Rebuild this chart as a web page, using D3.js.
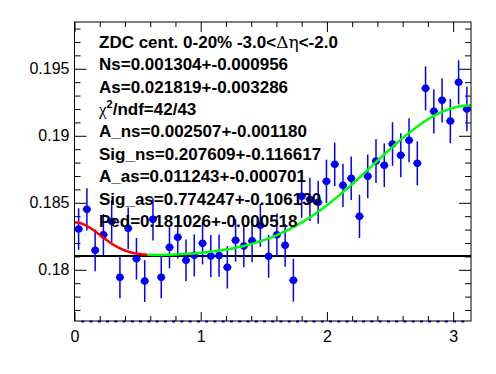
<!DOCTYPE html>
<html>
<head>
<meta charset="utf-8">
<script src="https://cdn.jsdelivr.net/npm/d3@7"></script>
<style>
  body { margin: 0; background: #fff; }
  svg { display: block; }
  text { font-family: "Liberation Sans", Arial, Helvetica, sans-serif; }
</style>
</head>
<body>
<script>
// dphi bins, 0..pi
const nBins = 48
const xRange = [0, Math.PI]

const values = [
  0.183041, 0.184511, 0.181451, 0.182616, 0.183616, 0.179436, 0.183093, 0.180824,
  0.179160, 0.183765, 0.179436, 0.181675, 0.182421, 0.180705, 0.181078, 0.181974,
  0.181026, 0.181063, 0.180183, 0.182198, 0.181772, 0.182160, 0.183325, 0.181004,
  0.182608, 0.181825, 0.179220, 0.185489, 0.185250, 0.185041, 0.186600, 0.187869,
  0.186302, 0.186825, 0.183989, 0.186974, 0.188116, 0.187802, 0.189384, 0.188541,
  0.189660, 0.187944, 0.193541, 0.191825, 0.192645, 0.191101, 0.193989, 0.191996
]

const errors = [
  0.00155, 0.00158, 0.00155, 0.00155, 0.00156, 0.00155, 0.00156, 0.00155,
  0.00156, 0.00157, 0.00156, 0.00156, 0.00157, 0.00156, 0.00157, 0.00157,
  0.00158, 0.00158, 0.00158, 0.00159, 0.00159, 0.00159, 0.0016, 0.0016,
  0.0016, 0.0016, 0.0016, 0.00161, 0.00161, 0.00161, 0.00162, 0.00162,
  0.00162, 0.00162, 0.00162, 0.00163, 0.00163, 0.00163, 0.00163, 0.00164,
  0.00164, 0.00164, 0.00164, 0.00165, 0.00165, 0.00165, 0.00165, 0.00166
]

// fit result: ped, A_ns, sig_ns, A_as, sig_as
const fitPars = [0.181026, 0.002507, 0.207609, 0.011243, 0.774247]
const redRange = [0, 0.578]
const greenRange = [0.578, Math.PI]

const yMajor = [0.18, 0.185, 0.19, 0.195]
const yLabels = ['0.18', '0.185', '0.19', '0.195']
const xMajor = [0, 1, 2, 3]
const xLabels = ['0', '1', '2', '3']

const infoLines = [
  'ZDC cent. 0-20% -3.0<Δη<-2.0',
  'Ns=0.001304+-0.000956',
  'As=0.021819+-0.003286',
  'χ2/ndf=42/43',
  'A_ns=0.002507+-0.001180',
  'Sig_ns=0.207609+-0.116617',
  'A_as=0.011243+-0.000701',
  'Sig_as=0.774247+-0.106130',
  'Ped=0.181026+-0.000518'
]

const width = 496
const height = 374
const frame = { left: 74.5, right: 471, top: 22, bottom: 321 }

const xScale = d3.scaleLinear()
  .domain(xRange)
  .range([frame.left, frame.right])

const yScale = d3.scaleLinear()
  .domain([0.17618, 0.19849])
  .range([frame.bottom, frame.top])

const binW = (xRange[1] - xRange[0]) / nBins
const points = values.map((v, i) => ({
  lo: xRange[0] + i * binW,
  hi: xRange[0] + (i + 1) * binW,
  x: xRange[0] + (i + 0.5) * binW,
  v: v,
  e: errors[i]
}))

function fitFunc(x) {
  const [ped, ans, sns, aas, sas] = fitPars
  return ped + ans * Math.exp(-x * x / (2 * sns * sns)) +
    aas * Math.exp(-(x - Math.PI) * (x - Math.PI) / (2 * sas * sas))
}

const svg = d3.select('body').append('svg')
  .attr('width', width)
  .attr('height', height)

svg.append('rect')
  .attr('width', width)
  .attr('height', height)
  .attr('fill', 'white')

// minor ticks, all four sides
const yMinor = d3.range(0.177, 0.1985, 0.001).filter(d => !yMajor.some(m => Math.abs(m - d) < 1e-6))
const xMinor = d3.range(0.2, 3.15, 0.2).filter(d => !xMajor.some(m => Math.abs(m - d) < 1e-6))

function tickGroup(axis, tx, ty) {
  const g = svg.append('g')
    .attr('transform', `translate(${tx}, ${ty})`)
    .call(axis)
  g.select('.domain').remove()
  g.selectAll('line').attr('stroke', 'black').attr('stroke-width', 1)
  return g
}

tickGroup(d3.axisLeft(yScale).tickValues(yMinor).tickSize(-6).tickFormat(''), frame.left, 0)
tickGroup(d3.axisRight(yScale).tickValues(yMinor).tickSize(-6).tickFormat(''), frame.right, 0)
tickGroup(d3.axisRight(yScale).tickValues(yMajor).tickSize(-12).tickFormat(''), frame.right, 0)
tickGroup(d3.axisBottom(xScale).tickValues(xMinor).tickSize(-5).tickFormat(''), 0, frame.bottom)
tickGroup(d3.axisTop(xScale).tickValues(xMinor).tickSize(-5).tickFormat(''), 0, frame.top)
tickGroup(d3.axisTop(xScale).tickValues(xMajor).tickSize(-10).tickFormat(''), 0, frame.top)

const yAxis = tickGroup(d3.axisLeft(yScale)
  .tickValues(yMajor)
  .tickSize(-12)
  .tickPadding(5)
  .tickFormat((d, i) => yLabels[i]), frame.left, 0)
yAxis.selectAll('text')
  .attr('font-size', 16)
  .attr('fill', 'black')
  .attr('font-family', '"Liberation Sans", Arial, sans-serif')

const xAxis = tickGroup(d3.axisBottom(xScale)
  .tickValues(xMajor)
  .tickSize(-9)
  .tickPadding(6)
  .tickFormat((d, i) => xLabels[i]), 0, frame.bottom)
xAxis.selectAll('text')
  .attr('font-size', 16)
  .attr('fill', 'black')
  .attr('font-family', '"Liberation Sans", Arial, sans-serif')
  .attr('dy', '0.95em')

// blue stubs along the bottom edge (bin edges)
svg.append('g').selectAll('line')
  .data(d3.range(1, nBins))
  .join('line')
  .attr('x1', d => xScale(d * binW) - 1.5)
  .attr('x2', d => xScale(d * binW) + 1.5)
  .attr('y1', frame.bottom + 0.5)
  .attr('y2', frame.bottom + 0.5)
  .attr('stroke', '#0000ff')
  .attr('stroke-width', 2)

// pedestal line
svg.append('line')
  .attr('x1', frame.left)
  .attr('x2', frame.right)
  .attr('y1', yScale(fitPars[0]))
  .attr('y2', yScale(fitPars[0]))
  .attr('stroke', 'black')
  .attr('stroke-width', 2)

// data points
const pts = svg.append('g').attr('class', 'points')

pts.selectAll('.ey')
  .data(points)
  .join('line')
  .attr('class', 'ey')
  .attr('x1', d => xScale(d.x))
  .attr('x2', d => xScale(d.x))
  .attr('y1', d => yScale(d.v - d.e))
  .attr('y2', d => yScale(d.v + d.e))
  .attr('stroke', '#0000ff')
  .attr('stroke-width', 1.5)

pts.selectAll('.ex')
  .data(points)
  .join('line')
  .attr('class', 'ex')
  .attr('x1', d => xScale(d.lo))
  .attr('x2', d => xScale(d.hi))
  .attr('y1', d => yScale(d.v))
  .attr('y2', d => yScale(d.v))
  .attr('stroke', '#0000ff')
  .attr('stroke-width', 1.5)

pts.selectAll('circle')
  .data(points)
  .join('circle')
  .attr('cx', d => xScale(d.x))
  .attr('cy', d => yScale(d.v))
  .attr('r', 3.8)
  .attr('fill', '#0000ff')

// fit curves
const fitLine = d3.line()
  .x(d => xScale(d))
  .y(d => yScale(fitFunc(d)))

function sample(r) {
  const n = 120
  return d3.range(n + 1).map(i => r[0] + (r[1] - r[0]) * i / n)
}

svg.append('path')
  .attr('d', fitLine(sample(redRange)))
  .attr('fill', 'none')
  .attr('stroke', '#ff0000')
  .attr('stroke-width', 2.5)

svg.append('path')
  .attr('d', fitLine(sample(greenRange)))
  .attr('fill', 'none')
  .attr('stroke', '#00ff00')
  .attr('stroke-width', 2.5)

// stats text
const info = svg.append('g')
  .attr('font-size', 17)
  .attr('font-weight', 'bold')
  .attr('fill', 'black')

infoLines.forEach((s, i) => {
  const t = info.append('text')
    .attr('x', 99)
    .attr('y', 47.6 + i * 22.45)
  if (s.includes('Δη')) {
    const [a, b] = s.split('Δη')
    t.append('tspan').text(a)
    t.append('tspan')
      .attr('font-family', '"DejaVu Serif", "Liberation Serif", serif')
      .attr('font-weight', 'normal')
      .text('Δη')
    t.append('tspan').text(b)
  } else if (s.startsWith('χ2')) {
    t.append('tspan')
      .attr('font-family', '"Liberation Serif", serif')
      .attr('font-weight', 'normal')
      .text('χ')
    t.append('tspan')
      .attr('font-size', 11)
      .attr('dy', -7)
      .text('2')
    t.append('tspan')
      .attr('dy', 7)
      .text(s.slice(2))
  } else {
    t.text(s)
  }
})

// frame
svg.append('rect')
  .attr('x', frame.left)
  .attr('y', frame.top)
  .attr('width', frame.right - frame.left)
  .attr('height', frame.bottom - frame.top)
  .attr('fill', 'none')
  .attr('stroke', 'black')
  .attr('stroke-width', 1)
</script>
</body>
</html>
